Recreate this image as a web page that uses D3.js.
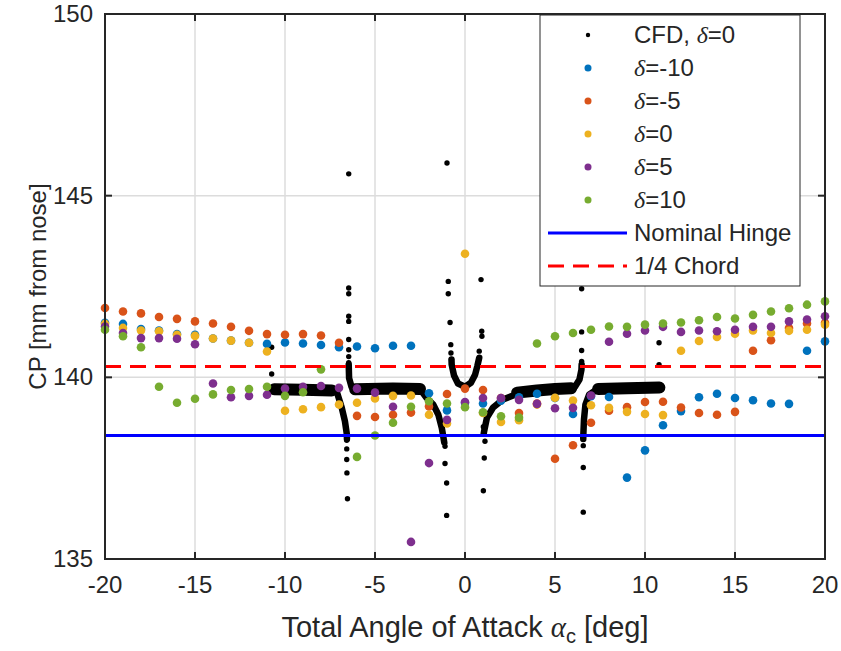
<!DOCTYPE html>
<html>
<head>
<meta charset="utf-8">
<script src="https://cdn.jsdelivr.net/npm/d3@7"></script>
<style>
  body { margin: 0; background: #fff; }
  text { font-family: "Liberation Sans", Arial, sans-serif; fill: #262626; }
</style>
</head>
<body>
<div id="chart"></div>
<script>
// angle of attack for the wind tunnel runs
var alphaDeg = [-20,-19,-18,-17,-16,-15,-14,-13,-12,-11,-10,-9,-8,-7,-6,-5,-4,-3,-2,-1,0,
                1,2,3,4,5,6,7,8,9,10,11,12,13,14,15,16,17,18,19,20]
// CP [mm from nose] per flap deflection, null = no point
var cpM10 = [141.50,141.47,141.33,141.29,141.19,141.17,141.07,141.01,140.95,140.92,140.96,140.93,140.89,140.83,140.85,140.80,140.87,140.87,139.56,139.09,139.30,
             139.28,139.36,139.45,139.55,139.43,138.99,139.48,139.46,137.24,137.99,138.68,139.07,139.45,139.55,139.43,139.37,139.28,139.27,140.73,140.99]
var cpM5  = [141.91,141.81,141.76,141.66,141.61,141.54,141.48,141.39,141.28,141.19,141.17,141.19,141.15,140.95,138.94,138.91,138.97,139.03,139.20,139.54,139.69,
             139.65,139.43,139.02,139.28,137.76,138.13,138.75,139.08,139.18,139.32,139.33,139.17,139.02,138.97,139.05,140.73,141.02,141.36,141.48,141.50]
var cp0   = [141.47,141.36,141.29,141.27,141.17,141.14,141.07,141.01,140.95,140.71,139.08,139.12,139.18,139.25,139.30,139.42,139.49,139.50,138.97,138.73,143.40,
             139.02,138.77,138.82,139.25,139.44,139.36,139.23,139.16,139.05,138.99,138.96,140.73,141.00,141.11,141.20,141.29,141.22,141.28,141.31,141.45]
var cpP5  = [141.40,141.22,141.08,141.08,141.06,140.91,139.83,139.45,139.49,139.52,139.69,139.74,139.76,139.71,139.69,139.58,139.19,135.47,137.64,138.83,139.32,
             139.43,139.43,139.38,139.27,139.15,139.16,139.50,140.98,141.20,141.29,141.39,141.25,141.29,141.27,141.31,141.39,141.39,141.54,141.59,141.68]
var cpP10 = [141.31,141.13,140.83,139.74,139.30,139.41,139.53,139.65,139.68,139.74,139.49,139.59,140.22,null,137.81,138.40,138.75,139.19,139.34,139.28,139.18,
             139.04,138.93,138.89,140.93,141.13,141.22,141.31,141.40,141.39,141.45,141.48,141.51,141.57,141.66,141.62,141.72,141.81,141.90,142.00,142.09]

var seriesNames = ["\u03B4=-10", "\u03B4=-5", "\u03B4=0", "\u03B4=5", "\u03B4=10"]
var seriesColors = ["#0072BD", "#D95319", "#EDB120", "#7E2F8E", "#77AC30"]

// CFD, delta=0 : dense part of the cloud (thick band) and the branches near the poles
var cfdBand = [
  [[-10.6,139.67],[-9.0,139.66],[-7.4,139.64]],
  [[-6.1,139.67],[-4.0,139.69],[-2.5,139.68]],
  [[2.9,139.58],[4.0,139.64],[5.0,139.68],[5.9,139.70]],
  [[7.4,139.68],[9.0,139.70],[10.8,139.72]]
]
var cfdBranch = [
  [[-7.4,139.64],[-7.11,139.58],[-6.85,139.17],[-6.67,138.79],[-6.56,138.42],[-6.56,138.30]],
  [[-6.46,140.35],[-6.44,139.98],[-6.30,139.73],[-6.0,139.67]],
  [[-2.5,139.68],[-2.13,139.43],[-1.76,139.25],[-1.48,138.97],[-1.29,138.61],[-1.21,138.38],[-1.15,138.20]],
  [[-0.75,140.49],[-0.74,140.35],[-0.61,140.05],[-0.39,139.83],[0,139.74],[0.33,139.85],[0.56,140.07],[0.69,140.32],[0.79,140.54]],
  [[1.04,138.45],[1.06,138.51],[1.22,138.89],[1.56,139.17],[2.11,139.39],[2.78,139.52],[3.6,139.62]],
  [[5.9,139.70],[6.11,139.74],[6.36,139.94],[6.47,140.21],[6.48,140.35]],
  [[6.57,138.30],[6.57,138.37],[6.61,138.84],[6.69,139.25],[6.89,139.52],[7.22,139.63],[7.5,139.68]]
]
var cfdDotAlpha = [-10.74,-10.74,
  -6.57,-6.57,-6.57,-6.56,-6.53,
  -6.46,-6.46,-6.46,-6.46,-6.46,-6.46,-6.46,-6.46,-6.46,
  -1.11,-1.11,-1.02,-1.02,
  -1.0,-0.93,-0.93,-0.83,-0.79,-0.78,-0.75,
  0.79,0.94,0.93,0.89,
  1.02,1.11,1.07,1.02,
  6.48,6.48,6.48,6.48,
  6.57,6.57,6.57,
  10.78,10.78]
var cfdDotCP = [140.83,140.09,
  138.27,138.03,137.74,137.37,136.66,
  145.60,142.46,142.30,141.68,141.54,141.04,140.76,140.57,140.40,
  138.10,137.63,137.09,136.20,
  145.90,142.64,142.30,141.51,140.90,140.67,140.49,
  140.72,141.13,141.27,142.69,
  138.64,138.24,137.78,136.88,
  140.44,140.74,141.25,142.44,
  138.12,137.52,136.29,
  140.95,140.35]

var hingeCP = 138.40
var chordCP = 140.30

var xTicks = [-20,-15,-10,-5,0,5,10,15,20]
var yTicks = [135,140,145,150]

var width = 841, height = 651
var padL = 105, padR = 825, padT = 14, padB = 559

var svg = d3.select("#chart").append("svg")
    .attr("width", width)
    .attr("height", height)

var x = d3.scaleLinear().domain([-20, 20]).range([padL, padR])
var y = d3.scaleLinear().domain([135, 150]).range([padB, padT])

// grid
var grid = svg.append("g")
grid.selectAll(".gx").data(xTicks.slice(1, -1)).enter().append("line")
    .attr("x1", d => x(d)).attr("x2", d => x(d))
    .attr("y1", padT).attr("y2", padB)
    .attr("stroke", "#dcdcdc").attr("stroke-width", 1.5)
grid.selectAll(".gy").data(yTicks.slice(1, -1)).enter().append("line")
    .attr("y1", d => y(d)).attr("y2", d => y(d))
    .attr("x1", padL).attr("x2", padR)
    .attr("stroke", "#dcdcdc").attr("stroke-width", 1.5)

// CFD cloud
var line = d3.line().x(d => x(d[0])).y(d => y(d[1]))
var cfd = svg.append("g")
cfd.selectAll(".band").data(cfdBand).enter().append("path")
    .attr("d", line).attr("fill", "none").attr("stroke", "#000")
    .attr("stroke-width", 12).attr("stroke-linecap", "round").attr("stroke-linejoin", "round")
cfd.selectAll(".branch").data(cfdBranch).enter().append("path")
    .attr("d", line).attr("fill", "none").attr("stroke", "#000")
    .attr("stroke-width", 6.5).attr("stroke-linecap", "round").attr("stroke-linejoin", "round")
cfd.selectAll("circle").data(cfdDotAlpha).enter().append("circle")
    .attr("cx", d => x(d)).attr("cy", (d, i) => y(cfdDotCP[i]))
    .attr("r", 2.7).attr("fill", "#000")

// wind tunnel series
var allSeries = [cpM10, cpM5, cp0, cpP5, cpP10]
allSeries.forEach(function(vals, k) {
  svg.append("g").selectAll("circle")
    .data(alphaDeg.map((a, i) => [a, vals[i]]).filter(d => d[1] != null))
    .enter().append("circle")
    .attr("cx", d => x(d[0])).attr("cy", d => y(d[1]))
    .attr("r", 4.3).attr("fill", seriesColors[k])
})

// reference lines
svg.append("line").attr("x1", padL).attr("x2", padR)
    .attr("y1", y(hingeCP)).attr("y2", y(hingeCP))
    .attr("stroke", "#0000FF").attr("stroke-width", 3)
svg.append("line").attr("x1", padL).attr("x2", padR)
    .attr("y1", y(chordCP)).attr("y2", y(chordCP))
    .attr("stroke", "#FF0000").attr("stroke-width", 3).attr("stroke-dasharray", "16,9")

// axes box with inward ticks on all four sides
var axisColor = "#262626"
var ax = svg.append("g")
ax.append("rect").attr("x", padL).attr("y", padT)
    .attr("width", padR - padL).attr("height", padB - padT)
    .attr("fill", "none").attr("stroke", axisColor).attr("stroke-width", 2)
xTicks.forEach(function(t) {
  ax.append("line").attr("x1", x(t)).attr("x2", x(t)).attr("y1", padB).attr("y2", padB - 7)
    .attr("stroke", axisColor).attr("stroke-width", 2)
  ax.append("line").attr("x1", x(t)).attr("x2", x(t)).attr("y1", padT).attr("y2", padT + 7)
    .attr("stroke", axisColor).attr("stroke-width", 2)
  ax.append("text").attr("x", x(t)).attr("y", padB + 34)
    .attr("text-anchor", "middle").attr("font-size", 24).text(t)
})
yTicks.forEach(function(t) {
  ax.append("line").attr("x1", padL).attr("x2", padL + 7).attr("y1", y(t)).attr("y2", y(t))
    .attr("stroke", axisColor).attr("stroke-width", 2)
  ax.append("line").attr("x1", padR).attr("x2", padR - 7).attr("y1", y(t)).attr("y2", y(t))
    .attr("stroke", axisColor).attr("stroke-width", 2)
  ax.append("text").attr("x", padL - 12).attr("y", y(t) + 8)
    .attr("text-anchor", "end").attr("font-size", 24).text(t)
})

// axis labels
var xl = svg.append("text").attr("x", (padL + padR) / 2).attr("y", 637)
    .attr("text-anchor", "middle").attr("font-size", 29)
xl.append("tspan").text("Total Angle of Attack ")
xl.append("tspan").attr("font-family", "Liberation Serif, serif").attr("font-style", "italic").text("\u03B1")
xl.append("tspan").attr("font-size", 20).attr("dy", 6).text("c")
xl.append("tspan").attr("dy", -6).text(" [deg]")

svg.append("text")
    .attr("transform", "translate(46," + ((padT + padB) / 2) + ") rotate(-90)")
    .attr("text-anchor", "middle").attr("font-size", 24)
    .text("CP [mm from nose]")

// legend
var lg = svg.append("g")
lg.append("rect").attr("x", 540).attr("y", 15).attr("width", 260).attr("height", 271)
    .attr("fill", "#fff").attr("stroke", axisColor).attr("stroke-width", 1)
var rowY = d3.scaleLinear().domain([0, 7]).range([35, 266])
function deltaLabel(t, text, pre) {
  if (pre) t.append("tspan").text(pre)
  t.append("tspan").attr("font-family", "Liberation Serif, serif").attr("font-style", "italic").text("\u03B4")
  t.append("tspan").text(text)
}
var t0 = lg.append("text").attr("x", 634).attr("y", rowY(0) + 8).attr("font-size", 24)
deltaLabel(t0, "=0", "CFD, ")
lg.append("circle").attr("cx", 588).attr("cy", rowY(0)).attr("r", 2.2).attr("fill", "#000")
seriesNames.forEach(function(n, k) {
  lg.append("circle").attr("cx", 588).attr("cy", rowY(k + 1)).attr("r", 3.5).attr("fill", seriesColors[k])
  var t = lg.append("text").attr("x", 634).attr("y", rowY(k + 1) + 8).attr("font-size", 24)
  deltaLabel(t, n.slice(1))
})
lg.append("line").attr("x1", 548).attr("x2", 627).attr("y1", rowY(6)).attr("y2", rowY(6))
    .attr("stroke", "#0000FF").attr("stroke-width", 3)
lg.append("text").attr("x", 634).attr("y", rowY(6) + 8).attr("font-size", 24).text("Nominal Hinge")
lg.append("line").attr("x1", 548).attr("x2", 627).attr("y1", rowY(7)).attr("y2", rowY(7))
    .attr("stroke", "#FF0000").attr("stroke-width", 3).attr("stroke-dasharray", "16,9")
lg.append("text").attr("x", 634).attr("y", rowY(7) + 8).attr("font-size", 24).text("1/4 Chord")
</script>
</body>
</html>
